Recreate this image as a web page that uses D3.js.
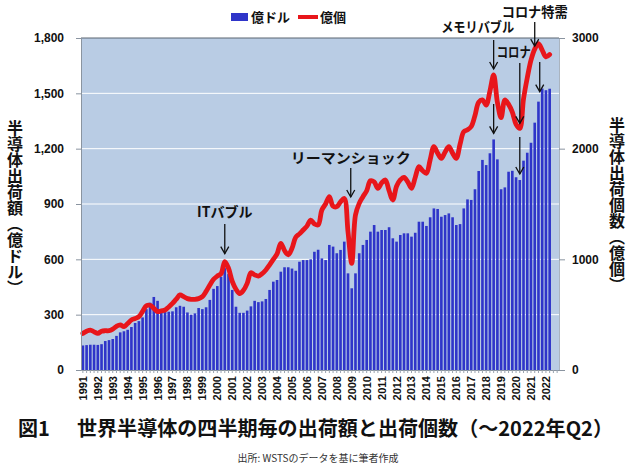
<!DOCTYPE html>
<html><head><meta charset="utf-8">
<script src="https://cdn.jsdelivr.net/npm/d3@7"></script>
<style>
body{margin:0;background:#ffffff;}
svg{display:block;}
</style>
</head><body>
<svg id="chart" width="630" height="468"></svg>
<script>
// ---------- data ----------
const yearLabels = [1991,1992,1993,1994,1995,1996,1997,1998,1999,2000,2001,2002,2003,2004,2005,2006,
  2007,2008,2009,2010,2011,2012,2013,2014,2015,2016,2017,2018,2019,2020,2021,2022];
const quarterNames = ["Q1","Q2","Q3","Q4"];
// quarterly shipments, 億ドル (1991Q1 .. 2022Q2)
const salesOkuDollar = [
  133,135,137,137, 136,140,157,162, 168,185,204,210, 218,233,255,265,
  285,330,365,396, 375,330,314,316, 318,340,348,343, 312,300,307,336,
  330,340,380,440, 455,505,552,520, 434,343,310,310, 322,345,375,368,
  372,385,434,479, 488,533,557,557, 550,538,587,596, 596,600,641,652,
  605,596,678,669, 633,651,696,524, 443,524,633,678, 705,750,786,750,
  759,759,774,714, 696,732,741,741, 723,744,804,804, 781,828,876,873,
  831,840,849,828, 786,791,876,925, 922,980,1079,1139, 1111,1175,1250,1142,
  980,990,1075,1080, 1045,1030,1135,1178, 1232,1341,1455,1526, 1517,1525
];
// quarterly shipments, 億個
const unitsOkuKo = [
  331,350,361,345, 331,350,355,355, 370,395,407,392, 420,452,465,482,
  530,580,585,557, 527,535,542,570, 602,640,678,663, 645,639,639,645,
  663,710,768,820, 849,870,979,919, 800,730,690,720, 783,879,860,849,
  870,904,950,1000, 1050,1145,1080,1040, 1100,1200,1230,1265, 1300,1355,1320,1310,
  1446,1500,1566,1480, 1476,1520,1550,1250, 964,1400,1506,1566, 1620,1710,1700,1642,
  1690,1717,1620,1536, 1660,1717,1741,1700, 1642,1740,1837,1800, 1777,1900,2018,1960,
  1912,1970,2018,1960, 1912,2040,2153,2170, 2200,2300,2420,2440, 2394,2520,2666,2420,
  2280,2440,2400,2330, 2220,2183,2450,2640, 2800,2900,2950,2890, 2830,2850
];
const leftTicks = [0,300,600,900,1200,1500,1800];
const rightTicks = [0,1000,2000,3000];
const legendItems = ["億ドル","億個"];
const titleLabel = "図1";
const titleText = "世界半導体の四半期毎の出荷額と出荷個数（～2022年Q2）";
const sourceText = "出所: WSTSのデータを基に筆者作成";
const leftAxisTitle = "半導体出荷額（億ドル）";
const rightAxisTitle = "半導体出荷個数（億個）";
// annotations: label, quarter index of target
const annotations = [
  {label:"ITバブル", idx:38},
  {label:"リーマンショック", idx:72},
  {label:"メモリバブル", idx:110},
  {label:"コロナ", idx:117},
  {label:"コロナ特需", idx:121}
];

// ---------- build ----------
const categories = [];
yearLabels.forEach(y => quarterNames.forEach(q => categories.push(y + q)));

const svg = d3.select("#chart");
const M = {left:81, right:559, top:38, bottom:370};
const x = d3.scaleBand().domain(categories).range([M.left, M.right]).paddingInner(0.3).paddingOuter(0.15);
const yL = d3.scaleLinear().domain([0,1800]).range([M.bottom, M.top]);
const yR = d3.scaleLinear().domain([0,3000]).range([M.bottom, M.top]);
const cx = i => x(categories[i]) + x.bandwidth()/2;

const numFont = "'Liberation Sans', Arial, sans-serif";
const jpFont = "'Noto Sans CJK JP', 'Noto Sans', sans-serif";

// plot background
svg.append("rect").attr("x",M.left).attr("y",M.top)
  .attr("width",M.right-M.left).attr("height",M.bottom-M.top).attr("fill","#b9cce4");

// gridlines
svg.append("g").selectAll("line").data(leftTicks.filter(d=>d>0 && d<1800)).join("line")
  .attr("x1",M.left).attr("x2",M.right).attr("y1",d=>yL(d)).attr("y2",d=>yL(d))
  .attr("stroke","#ffffff").attr("stroke-width",1);
// top border
svg.append("line").attr("x1",M.left).attr("x2",M.right).attr("y1",M.top).attr("y2",M.top)
  .attr("stroke","#5a6470").attr("stroke-width",1);

// bars
svg.append("g").selectAll("rect").data(salesOkuDollar).join("rect")
  .attr("x",(d,i)=>x(categories[i]))
  .attr("width",x.bandwidth())
  .attr("y",d=>yL(d))
  .attr("height",d=>M.bottom-yL(d))
  .attr("fill","#2f35c9");

// line
const line = d3.line().x((d,i)=>cx(i)).y(d=>yR(d)).curve(d3.curveCatmullRom.alpha(0.5));
svg.append("path").datum(unitsOkuKo).attr("d",line)
  .attr("fill","none").attr("stroke","#e8161b").attr("stroke-width",4.8)
  .attr("stroke-linejoin","round").attr("stroke-linecap","round");

// left axis
const gL = svg.append("g").attr("transform",`translate(${M.left},0)`)
  .call(d3.axisLeft(yL).tickValues(leftTicks).tickFormat(d3.format(",")).tickSize(5).tickPadding(12));
gL.select(".domain").attr("stroke","#8a94a0");
gL.selectAll(".tick line").attr("stroke","#8a94a0");
gL.selectAll("text").attr("font-family",numFont).attr("font-weight","bold").attr("font-size",12).attr("fill","#111");

// right axis
const gR = svg.append("g").attr("transform",`translate(${M.right},0)`)
  .call(d3.axisRight(yR).tickValues(rightTicks).tickFormat(d3.format("d")).tickSize(6).tickPadding(7));
gR.select(".domain").attr("stroke","#aab4c0");
gR.selectAll(".tick line").attr("stroke","#8a94a0");
gR.selectAll("text").attr("font-family",numFont).attr("font-weight","bold").attr("font-size",12).attr("fill","#111");

// bottom axis
const gB = svg.append("g").attr("transform",`translate(0,${M.bottom})`)
  .call(d3.axisBottom(x).tickValues(categories).tickFormat("").tickSize(3).tickSizeOuter(0));
gB.select(".domain").attr("stroke","#8a94a0");
gB.selectAll(".tick line").attr("stroke","#9aa4b0");
svg.append("g").selectAll("text").data(yearLabels).join("text")
  .attr("transform",y=>`translate(${x(y+"Q1")+x.bandwidth()/2+4},376) rotate(-90)`)
  .attr("text-anchor","end")
  .attr("font-family",numFont).attr("font-weight","bold").attr("font-size",11).attr("fill","#111")
  .text(d=>d);

// axis titles (vertical)
svg.append("text").attr("x",15).attr("y",208)
  .attr("style","writing-mode: vertical-rl;")
  .attr("text-anchor","middle").attr("font-family",jpFont).attr("font-weight","bold")
  .attr("font-size",16).attr("fill","#111").text(leftAxisTitle);
svg.append("text").attr("x",617).attr("y",205)
  .attr("style","writing-mode: vertical-rl;")
  .attr("text-anchor","middle").attr("font-family",jpFont).attr("font-weight","bold")
  .attr("font-size",16).attr("fill","#111").text(rightAxisTitle);

// legend
const lg = svg.append("g");
lg.append("rect").attr("x",231).attr("y",13).attr("width",17).attr("height",8).attr("fill","#2f35c9");
lg.append("text").attr("x",251).attr("y",22).attr("font-family",jpFont).attr("font-weight","bold")
  .attr("font-size",13).attr("fill","#111").text(legendItems[0]);
lg.append("line").attr("x1",298).attr("x2",318).attr("y1",17).attr("y2",17)
  .attr("stroke","#e8161b").attr("stroke-width",4);
lg.append("text").attr("x",320).attr("y",22).attr("font-family",jpFont).attr("font-weight","bold")
  .attr("font-size",13).attr("fill","#111").text(legendItems[1]);

// annotations
function arrow(g, xp, y1, y2){
  g.append("line").attr("x1",xp).attr("x2",xp).attr("y1",y1).attr("y2",y2)
    .attr("stroke","#111").attr("stroke-width",1.3);
  g.append("path").attr("d",`M${xp-4},${y2-7} L${xp},${y2} L${xp+4},${y2-7}`)
    .attr("fill","none").attr("stroke","#111").attr("stroke-width",1.3);
}
const ag = svg.append("g");
const annLayout = {
  "ITバブル":       {tx:0,  ty:217, len:null, arrows:[[0,224,8,"line"]]},
  "リーマンショック": {tx:-1, ty:163, len:120, arrows:[[-1,168,197,"abs"]]},
  "メモリバブル":    {tx:-16,ty:32,  len:73,  arrows:[[0,40,6,"line"],[0,104,6,"bar"]]},
  "コロナ":         {tx:-6, ty:57,  len:34,  arrows:[[0,63,5,"line"],[0,137,6,"bar"]]},
  "コロナ特需":      {tx:0,  ty:17,  len:66,  arrows:[[0,22,3,"line"],[5,62,10,"bar"]]}
};
annotations.forEach(a=>{
  const L = annLayout[a.label];
  const xp = cx(a.idx);
  const t = ag.append("text").attr("x",xp+L.tx).attr("y",L.ty).attr("text-anchor","middle")
    .attr("font-family",jpFont).attr("font-weight","bold").attr("font-size",14).attr("fill","#111").text(a.label);
  if(L.len) t.attr("textLength",L.len).attr("lengthAdjust","spacingAndGlyphs");
  L.arrows.forEach(([dx,y1,gap,mode])=>{
    let y2;
    if(mode==="line") y2 = yR(unitsOkuKo[a.idx]) - gap;
    else if(mode==="bar") y2 = yL(salesOkuDollar[a.idx + (dx>0?1:0)]) - gap;
    else y2 = gap;
    arrow(ag, xp+dx, y1, y2);
  });
});

// title & source
svg.append("text").attr("x",18).attr("y",436).attr("font-family",jpFont).attr("font-weight","bold")
  .attr("font-size",20).attr("fill","#111").text(titleLabel);
svg.append("text").attr("x",77).attr("y",436).attr("font-family",jpFont).attr("font-weight","bold")
  .attr("font-size",20).attr("fill","#111").attr("textLength",536).attr("lengthAdjust","spacingAndGlyphs")
  .text(titleText);
svg.append("text").attr("x",318).attr("y",462).attr("text-anchor","middle").attr("font-family",jpFont)
  .attr("font-size",10).attr("fill","#333").text(sourceText);
</script>
</body></html>
